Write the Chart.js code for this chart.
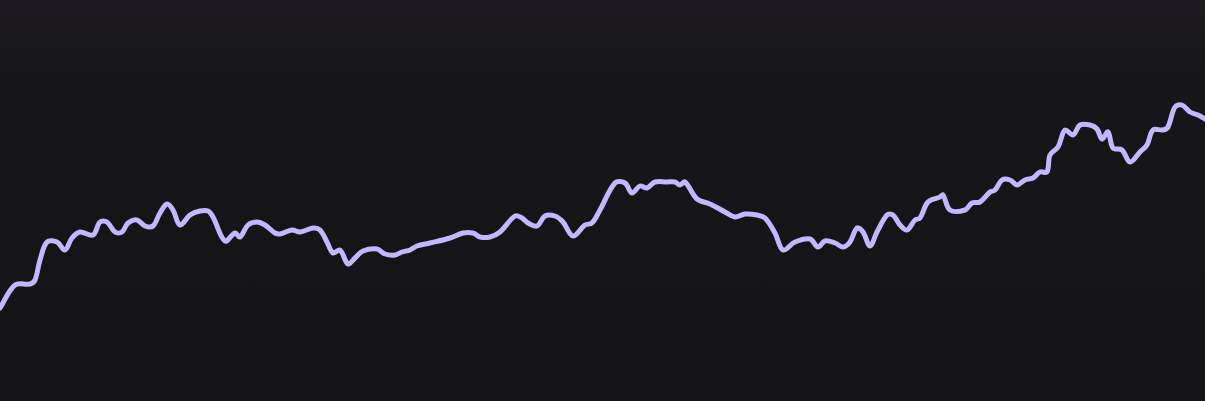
<!DOCTYPE html>
<html>
<head>
<meta charset="utf-8">
<script src="https://cdn.jsdelivr.net/npm/chart.js@4"></script>
<style>
  html, body { margin: 0; padding: 0; }
  body {
    width: 1205px; height: 401px; overflow: hidden;
    background: linear-gradient(to bottom, #1d1b21 0px, #161518 70px, #141316 401px);
  }
  #wrap { position: relative; width: 1205px; height: 401px; }
</style>
</head>
<body>
<div id="wrap"><canvas id="myChart"></canvas></div>
<script>
// sample positions along the run (left to right)
var steps = [
  0, 15, 30, 35, 40, 47, 57, 65, 72, 80, 93, 100, 107, 115, 122, 128, 137, 145, 153, 160,
  167, 173, 180, 190, 200, 208, 213, 225, 235, 240, 248, 257, 265, 275, 280, 292, 300, 313, 320, 327,
  333, 340, 348, 355, 363, 377, 385, 395, 402, 410, 417, 430, 450, 463, 473, 480, 490, 500, 515, 522,
  528, 537, 545, 555, 563, 573, 585, 592, 600, 615, 625, 632, 640, 647, 655, 667, 675, 680, 685, 697,
  710, 725, 735, 745, 757, 765, 775, 783, 795, 810, 818, 825, 835, 843, 850, 857, 863, 870, 877, 887,
  893, 900, 907, 915, 920, 928, 940, 943, 950, 965, 972, 980, 990, 995, 1002, 1010, 1017, 1025, 1033, 1040,
  1047, 1050, 1058, 1065, 1073, 1080, 1090, 1097, 1102, 1108, 1113, 1122, 1130, 1140, 1147, 1153, 1163, 1168, 1175, 1182,
  1190, 1198, 1205
];
// series values
var values = [
  93, 116, 117, 121, 141, 159, 159, 151, 163, 169, 166, 179, 179, 169, 169, 178, 181, 175, 175, 188,
  197, 191, 176, 186, 190, 190, 184, 160, 168, 164, 176, 179, 176, 168, 167, 171, 169, 173, 171, 159,
  148, 151, 137, 143, 150, 152, 147, 146, 149, 151, 155, 158, 163, 168, 168, 164, 164, 169, 185, 183,
  178, 175, 185, 185, 179, 165, 176, 178, 191, 218, 218, 208, 215, 213, 219, 219, 219, 216, 219, 202,
  197, 189, 184, 187, 186, 183, 168, 151, 159, 162, 154, 160, 158, 154, 159, 173, 169, 155, 169, 186,
  186, 176, 171, 181, 183, 199, 204, 206, 191, 191, 198, 199, 209, 211, 221, 221, 216, 221, 223, 229,
  229, 246, 254, 271, 266, 276, 276, 272, 262, 269, 253, 251, 239, 249, 256, 271, 271, 274, 294, 296,
  289, 286, 282
];

var points = steps.map(function (s, i) { return { x: s, y: values[i] }; });

var ctx = document.getElementById('myChart').getContext('2d');
var myChart = new Chart(ctx, {
  type: 'line',
  data: {
    datasets: [
      {
        data: points,
        borderColor: '#c3b7ff',
        borderWidth: 5,
        pointRadius: 0,
        tension: 0.35,
        fill: false,
        borderCapStyle: 'round',
        borderJoinStyle: 'round',
      },
    ],
  },
  options: {
    responsive: true,
    maintainAspectRatio: false,
    animation: false,
    layout: { padding: 0 },
    plugins: { legend: { display: false }, tooltip: { enabled: false } },
    scales: {
      x: { type: 'linear', display: false, min: 0, max: 1205 },
      y: { display: false, min: 0, max: 401 },
    },
  },
});
</script>
</body>
</html>
